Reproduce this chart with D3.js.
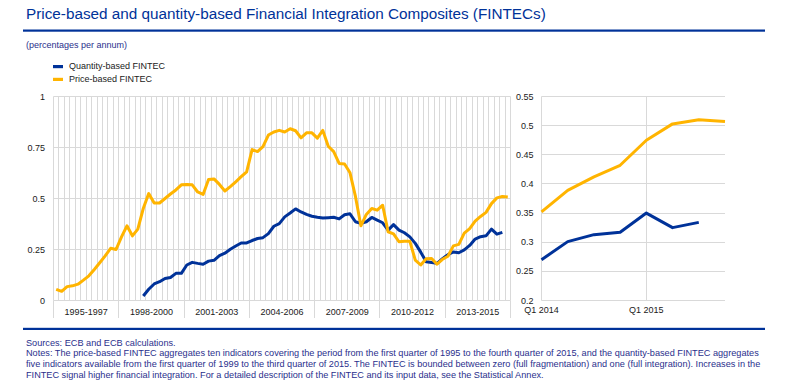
<!DOCTYPE html>
<html><head><meta charset="utf-8">
<script src="https://cdn.jsdelivr.net/npm/d3@7"></script>
<style>
body{margin:0;background:#fff}
svg{display:block;font-family:Arial,"Liberation Sans",sans-serif}
</style>
</head><body>
<svg id="c" width="811" height="392"></svg>
<script>
// ---------------- data ----------------
const titleText = "Price-based and quantity-based Financial Integration Composites (FINTECs)";
const unitText = "(percentages per annum)";
const seriesNames = ["Quantity-based FINTEC", "Price-based FINTEC"];
const seriesColors = ["#003299", "#FFB400"];

const years = [1995,1996,1997,1998,1999,2000,2001,2002,2003,2004,2005,2006,2007,2008,2009,2010,2011,2012,2013,2014,2015];
const quarterNames = ["Q1","Q2","Q3","Q4"];
const periods = ["1995-1997","1998-2000","2001-2003","2004-2006","2007-2009","2010-2012","2013-2015"];

// price-based FINTEC, 1995Q1 - 2015Q4
const priceFintec = [
  0.055,0.045,0.068,0.072, 0.080,0.100,0.121,0.152, 0.185,0.219,0.256,0.250,
  0.312,0.366,0.317,0.350, 0.451,0.524,0.478,0.478, 0.500,0.522,0.542,0.567,
  0.569,0.567,0.532,0.520, 0.593,0.596,0.569,0.537, 0.558,0.582,0.607,0.631,
  0.740,0.730,0.754,0.811, 0.826,0.834,0.826,0.842, 0.832,0.797,0.822,0.822,
  0.796,0.834,0.756,0.730, 0.672,0.669,0.626,0.510, 0.366,0.422,0.451,0.443,
  0.467,0.337,0.327,0.288, 0.291,0.290,0.198,0.174, 0.205,0.206,0.178,0.202,
  0.217,0.268,0.275,0.330, 0.352,0.389,0.412,0.432, 0.475,0.503,0.510,0.507
];
// quantity-based FINTEC, 1999Q1 - 2015Q3
const quantityStart = "1999Q1";
const quantityFintec = [
  0.022,0.055,0.081,0.092, 0.108,0.113,0.133,0.133, 0.174,0.187,0.182,0.178,
  0.193,0.197,0.220,0.232, 0.251,0.267,0.282,0.282, 0.294,0.304,0.308,0.328,
  0.364,0.377,0.410,0.429, 0.449,0.434,0.422,0.413, 0.408,0.404,0.406,0.408,
  0.400,0.420,0.425,0.386, 0.378,0.386,0.407,0.394, 0.381,0.345,0.372,0.345,
  0.332,0.312,0.280,0.237, 0.190,0.186,0.182,0.205, 0.225,0.238,0.234,0.248,
  0.270,0.301,0.313,0.317, 0.350,0.325,0.334
];

// zoomed panel 2014Q1 - 2015Q4
const zoomQuarters = ["2014Q1","2014Q2","2014Q3","2014Q4","2015Q1","2015Q2","2015Q3","2015Q4"];
const zoomPrice = [0.352,0.389,0.412,0.432,0.475,0.503,0.510,0.507];
const zoomQuantity = [0.270,0.301,0.313,0.317,0.350,0.325,0.334];
const zoomTickQuarters = ["2014Q1","2015Q1"];
const zoomTickLabels = ["Q1 2014","Q1 2015"];

const leftTicks = [0,0.25,0.5,0.75,1];
const leftTickLabels = ["0","0.25","0.5","0.75","1"];
const rightTicks = [0.2,0.25,0.3,0.35,0.4,0.45,0.5,0.55];
const rightTickLabels = ["0.2","0.25","0.3","0.35","0.4","0.45","0.5","0.55"];

const noteLines = [
  "Sources: ECB and ECB calculations.",
  "Notes: The price-based FINTEC aggregates ten indicators covering the period from the first quarter of 1995 to the fourth quarter of 2015, and the quantity-based FINTEC aggregates",
  "five indicators available from the first quarter of 1999 to the third quarter of 2015. The FINTEC is bounded between zero (full fragmentation) and one (full integration). Increases in the",
  "FINTEC signal higher financial integration. For a detailed description of the FINTEC and its input data, see the Statistical Annex."
];

// ---------------- drawing ----------------
const quarters = years.flatMap(y => quarterNames.map(q => y + q));
const svg = d3.select("#c");
const navy = "#003299", textNavy = "#2a2f8c", grid = "#d9d9d9", tickText = "#1a1a1a";

function fitText(sel, target) {
  const w = sel.node().getComputedTextLength();
  const fs = parseFloat(sel.attr("font-size"));
  sel.attr("font-size", (fs * target / w).toFixed(2));
}

// title
const t = svg.append("text").attr("x", 26).attr("y", 19).attr("font-size", 15)
  .attr("fill", navy).text(titleText);
fitText(t, 520);
svg.append("rect").attr("x", 23).attr("y", 29.5).attr("width", 742).attr("height", 2.2).attr("fill", navy);
svg.append("text").attr("x", 26).attr("y", 48).attr("font-size", 9).attr("fill", textNavy).text(unitText);

// legend
seriesNames.forEach((n, i) => {
  svg.append("rect").attr("x", 53).attr("y", 65 + i * 12.8).attr("width", 10).attr("height", 3.2).attr("fill", seriesColors[i]);
  svg.append("text").attr("x", 69).attr("y", 69 + i * 12.8).attr("font-size", 9).attr("fill", tickText).text(n);
});

// ---- left panel ----
const xL = d3.scaleBand().domain(quarters).range([53.5, 510.5]).padding(0);
const yL = d3.scaleLinear().domain([0, 1]).range([300.5, 96.5]);
const gL = svg.append("g");
const snap = v => Math.round(v - 0.5) + 0.5;

// vertical gridlines at each quarter boundary
const bounds = quarters.map(q => xL(q)).concat([xL.range()[1]]);
gL.selectAll("line.vg").data(bounds).join("line")
  .attr("x1", d => snap(d)).attr("x2", d => snap(d))
  .attr("y1", yL(1)).attr("y2", yL(0)).attr("stroke", grid).attr("stroke-width", 1);
// horizontal gridlines
gL.selectAll("line.hg").data(leftTicks).join("line")
  .attr("x1", xL.range()[0]).attr("x2", snap(xL.range()[1]))
  .attr("y1", d => yL(d)).attr("y2", d => yL(d)).attr("stroke", grid);
// period separators extending below axis
const periodBounds = periods.map((p, i) => xL(quarters[i * 12])).concat([xL.range()[1]]);
gL.selectAll("line.sep").data(periodBounds).join("line")
  .attr("x1", d => snap(d)).attr("x2", d => snap(d))
  .attr("y1", yL(0)).attr("y2", 318).attr("stroke", grid);
// period labels
gL.selectAll("text.per").data(periods).join("text")
  .attr("x", (p, i) => (xL(quarters[i * 12]) + xL(quarters[i * 12 + 11]) + xL.bandwidth()) / 2)
  .attr("y", 314.5).attr("text-anchor", "middle").attr("font-size", 9).attr("fill", tickText).text(d => d);
// y labels
gL.selectAll("text.yl").data(leftTicks).join("text")
  .attr("x", 45).attr("y", d => yL(d)).attr("dy", "0.34em").attr("text-anchor", "end")
  .attr("font-size", 9).attr("fill", tickText).text((d, i) => leftTickLabels[i]);

const qOffset = quarters.indexOf(quantityStart);
const lineL = d3.line().x(d => xL(d.q) + xL.bandwidth() / 2).y(d => yL(d.v)).curve(d3.curveLinear);
const qData = quantityFintec.map((v, i) => ({q: quarters[qOffset + i], v}));
const pData = priceFintec.map((v, i) => ({q: quarters[i], v}));
gL.append("path").datum(qData).attr("d", lineL).attr("fill", "none").attr("stroke", seriesColors[0])
  .attr("stroke-width", 3).attr("stroke-linejoin", "round").attr("stroke-linecap", "butt");
gL.append("path").datum(pData).attr("d", lineL).attr("fill", "none").attr("stroke", seriesColors[1])
  .attr("stroke-width", 3).attr("stroke-linejoin", "round").attr("stroke-linecap", "butt");

// ---- right panel ----
const xR = d3.scalePoint().domain(zoomQuarters).range([541.5, 725]).padding(0);
const yR = d3.scaleLinear().domain([0.2, 0.55]).range([300.5, 96.5]);
const gR = svg.append("g");
gR.selectAll("line.hg").data(rightTicks).join("line")
  .attr("x1", 541.5).attr("x2", 725)
  .attr("y1", d => snap(yR(d))).attr("y2", d => snap(yR(d))).attr("stroke", grid);
gR.selectAll("line.vg").data(zoomTickQuarters).join("line")
  .attr("x1", d => snap(xR(d))).attr("x2", d => snap(xR(d)))
  .attr("y1", yR(0.55)).attr("y2", yR(0.2)).attr("stroke", grid);
gR.selectAll("text.yl").data(rightTicks).join("text")
  .attr("x", 533.5).attr("y", d => yR(d)).attr("dy", "0.34em").attr("text-anchor", "end")
  .attr("font-size", 9).attr("fill", tickText).text((d, i) => rightTickLabels[i]);
gR.selectAll("text.xl").data(zoomTickQuarters).join("text")
  .attr("x", d => xR(d)).attr("y", 313).attr("text-anchor", "middle")
  .attr("font-size", 9).attr("fill", tickText).text((d, i) => zoomTickLabels[i]);
const lineR = d3.line().x(d => xR(d.q)).y(d => yR(d.v));
gR.append("path").datum(zoomQuantity.map((v, i) => ({q: zoomQuarters[i], v})))
  .attr("d", lineR).attr("fill", "none").attr("stroke", seriesColors[0]).attr("stroke-width", 3).attr("stroke-linejoin", "round");
gR.append("path").datum(zoomPrice.map((v, i) => ({q: zoomQuarters[i], v})))
  .attr("d", lineR).attr("fill", "none").attr("stroke", seriesColors[1]).attr("stroke-width", 3).attr("stroke-linejoin", "round");

// bottom rule and notes
svg.append("rect").attr("x", 23).attr("y", 327.8).attr("width", 742).attr("height", 2.2).attr("fill", navy);
const noteSel = noteLines.map((l, i) => svg.append("text").attr("x", 26).attr("y", 345.5 + i * 10.8)
  .attr("font-size", 9).attr("fill", textNavy).text(l));
const w2 = noteSel[1].node().getComputedTextLength();
const nfs = 9 * 733 / w2;
noteSel.forEach(s => s.attr("font-size", nfs.toFixed(2)));
</script>
</body></html>
